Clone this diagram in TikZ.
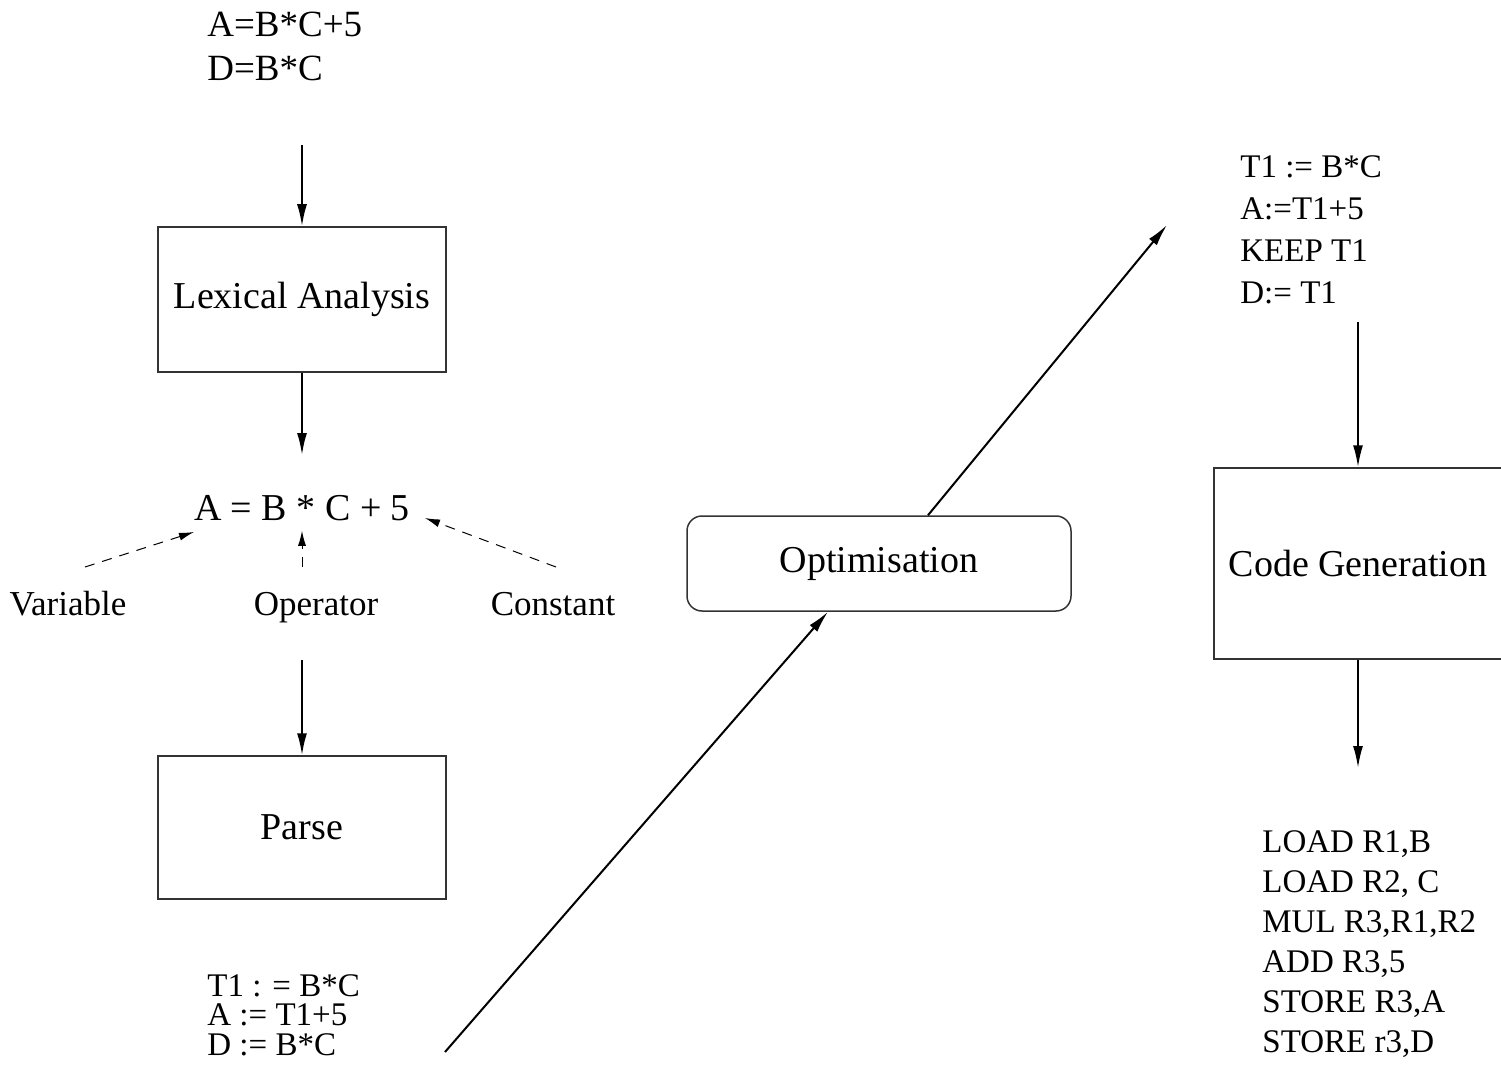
\documentclass[tikz,border=0pt]{standalone}
\usepackage{fontspec}
\setmainfont{Liberation Serif}
\usetikzlibrary{arrows.meta,positioning}

\tikzset{
  stage/.style={draw=black!80, line width=0.75pt, inner sep=0pt, font=\fontsize{19}{23}\selectfont},
  prog/.style={align=left, anchor=north west, inner sep=0pt, font=\fontsize{16.5}{#1}\selectfont},
  flow/.style={-{Latex[length=11pt,width=5pt]}, line width=1pt},
  hint/.style={-{Latex[length=7.5pt,width=4pt]}, line width=0.5pt, dash pattern=on 5pt off 4pt},
  tag/.style={anchor=base, inner sep=0pt, font=\fontsize{17.5}{21}\selectfont},
}

\begin{document}
\begin{tikzpicture}[x=0.5pt,y=-0.5pt]
  \useasboundingbox (0,0) rectangle (1501,1081);
  \clip (0,0) rectangle (1501,1081);

  % source text
  \node[prog=22pt, font=\fontsize{18.5}{22}\selectfont] (src) at (207,12) {A=B*C+5\\D=B*C};

  % left column
  \node[stage, minimum width=144pt, minimum height=72.5pt] (lex) at (302,299.5) {Lexical Analysis};
  \node[anchor=base, inner sep=0pt, font=\fontsize{19}{23}\selectfont] (expr) at (302,520) {A = B * C + 5};
  \node[tag] (var) at (68,615) {Variable};
  \node[tag] (op) at (316,615) {Operator};
  \node[tag] (const) at (553,615) {Constant};
  \node[stage, minimum width=144pt, minimum height=71.5pt] (parse) at (302,827.5) {Parse};
  \node[prog=14.75pt] (tac) at (207,974) {T1 : = B*C\\A := T1+5\\D := B*C};

  % middle
  \node[stage, rounded corners=7.5pt, minimum width=192pt, minimum height=47.5pt] (opt) at (879,563.5) {Optimisation};

  % right column
  \node[prog=21pt] (optcode) at (1240,155) {T1 := B*C\\A:=T1+5\\KEEP T1\\D:= T1};
  \node[stage, minimum width=144pt, minimum height=95.5pt] (gen) at (1358,563.5) {Code Generation};
  \node[prog=20pt] (asm) at (1262,830) {LOAD R1,B\\LOAD R2, C\\MUL R3,R1,R2\\ADD R3,5\\STORE R3,A\\STORE r3,D};

  % free ends
  \coordinate (srcend) at (302,145);
  \coordinate (exprin) at (302,455);
  \coordinate (parsein) at (302,660);
  \coordinate (varfrom) at (85,567);
  \coordinate (varto) at (194,532);
  \coordinate (opfrom) at (302,567);
  \coordinate (constfrom) at (556,567);
  \coordinate (constto) at (425,518);
  \coordinate (tacout) at (445,1052);
  \coordinate (optout) at (1167,225);
  \coordinate (genin) at (1358,322);
  \coordinate (genout) at (1358,768);

  % arrows
  \draw[flow] (srcend) -- (lex.north);
  \draw[flow] (lex.south) -- (exprin);
  \draw[flow] (parsein) -- (parse.north);
  \draw[flow] (tacout) -- ([xshift=-25.5pt]opt.south);
  \draw[flow] ([xshift=24.5pt]opt.north) -- (optout);
  \draw[flow] (genin) -- (gen.north);
  \draw[flow] (gen.south) -- (genout);

  % dashed hints
  \draw[hint] (varfrom) -- (varto);
  \draw[hint] (opfrom) -- ([yshift=-5pt]expr.south);
  \draw[hint] (constfrom) -- (constto);
\end{tikzpicture}
\end{document}
